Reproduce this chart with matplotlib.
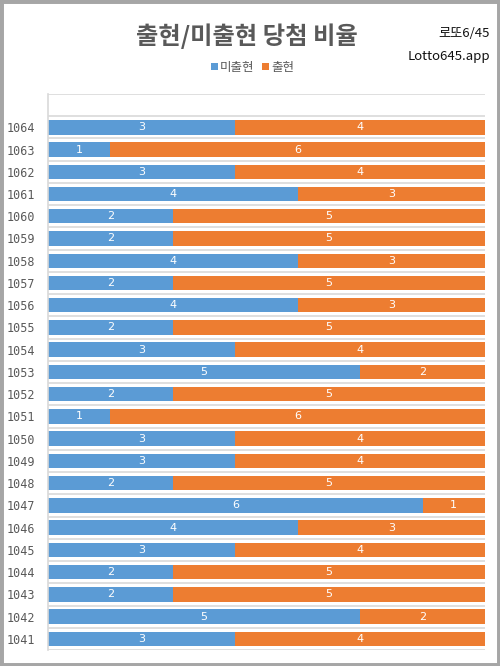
import matplotlib
matplotlib.use("Agg")
import matplotlib.pyplot as plt
from matplotlib.patches import Rectangle
import numpy as np

plt.rcParams['font.family'] = ['Noto Sans CJK KR', 'DejaVu Sans']

rounds = ['1041', '1042', '1043', '1044', '1045', '1046', '1047', '1048',
          '1049', '1050', '1051', '1052', '1053', '1054', '1055', '1056',
          '1057', '1058', '1059', '1060', '1061', '1062', '1063', '1064']
not_seen = [3, 5, 2, 2, 3, 4, 6, 2, 3, 3, 1, 2, 5, 3, 2, 4, 2, 4, 2, 2, 4, 3, 1, 3]
seen = [4, 2, 5, 5, 4, 3, 1, 5, 4, 4, 6, 5, 2, 4, 5, 3, 5, 3, 5, 5, 3, 4, 6, 4]
series_names = ['미출현', '출현']
colors = ['#5B9BD5', '#ED7D31']

a = np.array(not_seen, dtype=float)
b = np.array(seen, dtype=float)
tot = a + b
pa = a / tot
pb = b / tot

fig = plt.figure(figsize=(5, 6.66), dpi=100)
ax = fig.add_axes([0.096, 0.024, 0.874, 0.835])

y = np.arange(len(rounds))
h = 0.65
bars1 = ax.barh(y, pa, height=h, color=colors[0], label=series_names[0])
bars2 = ax.barh(y, pb, left=pa, height=h, color=colors[1], label=series_names[1])

for i in range(len(rounds)):
    ax.text(pa[i] / 2, y[i], str(not_seen[i]), color='white', fontsize=8,
            ha='center', va='center', family='DejaVu Sans')
    ax.text(pa[i] + pb[i] / 2, y[i], str(seen[i]), color='white', fontsize=8,
            ha='center', va='center', family='DejaVu Sans')

ax.set_xlim(0, 1)
ax.set_ylim(-0.5, len(rounds) + 0.5)
ax.set_yticks(y)
ax.set_yticklabels(rounds, family='DejaVu Sans Mono', fontsize=8.5, color='#595959')
ax.tick_params(axis='y', length=0, pad=9)
ax.set_xticks([])

# category boundary lines
for yy in np.arange(-0.5, len(rounds) + 1, 1.0):
    ax.axhline(yy, color='#d9d9d9', lw=1.2, zorder=0)
for s in ['right', 'bottom', 'top']:
    ax.spines[s].set_visible(False)
ax.spines['left'].set_color('#d9d9d9')
ax.spines['left'].set_linewidth(1.2)

fig.text(0.493, 0.945, '출현/미출현 당첨 비율', ha='center', va='center',
         fontsize=17.5, fontweight='bold', color='#595959')
fig.text(0.98, 0.950, '로또6/45', ha='right', va='center', fontsize=9.5, color='#111111')
fig.text(0.98, 0.915, 'Lotto645.app', ha='right', va='center', fontsize=9.5, color='#111111')

leg = fig.legend(handles=[bars1, bars2], labels=series_names, loc='center',
                 bbox_to_anchor=(0.505, 0.899), ncol=2, frameon=False, fontsize=9,
                 handlelength=0.55, handleheight=0.55, handletextpad=0.2,
                 columnspacing=0.6, labelcolor='#595959')

fig.patches.append(Rectangle((0, 0), 1, 1, transform=fig.transFigure, fill=False,
                             edgecolor='#a6a6a6', lw=5, zorder=10))

fig.savefig('out.png', dpi=100)
